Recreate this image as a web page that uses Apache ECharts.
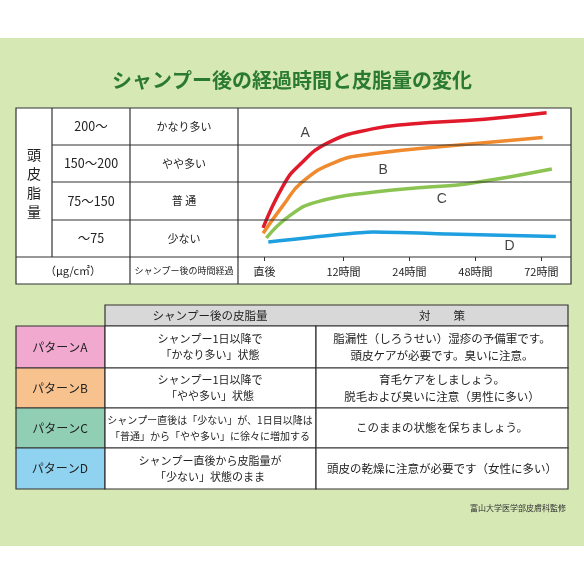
<!DOCTYPE html>
<html><head><meta charset="utf-8">
<script src="https://cdn.jsdelivr.net/npm/echarts@6/dist/echarts.min.js"></script>
<style>html,body{margin:0;padding:0;background:#fff}#c{width:584px;height:584px}</style>
</head><body><div id="c"></div>
<script>
const tickPos = [0, 1.2, 2.2, 3.2, 4.2];
const tickLabels = ['直後', '12時間', '24時間', '48時間', '72時間'];
const rangeLabels = ['200〜', '150〜200', '75〜150', '〜75'];
const levelLabels = ['かなり多い', 'やや多い', '普 通', '少ない'];
const seriesA = [[-0.02,0.78],[0.29,1.93],[0.52,2.45],[0.97,3.07],[1.64,3.44],[2.22,3.57],[3.34,3.7],[4.28,3.87]];
const seriesB = [[-0.02,0.64],[0.29,1.40],[0.57,2.01],[1.08,2.55],[1.64,2.77],[2.78,2.98],[4.22,3.21]];
const seriesC = [[0.03,0.51],[0.40,1.13],[0.80,1.48],[1.64,1.74],[2.49,1.88],[3.06,1.96],[4.36,2.36]];
const seriesD = [[0.06,0.40],[1.64,0.67],[2.78,0.62],[4.42,0.55]];
const curveLabels = [['A',0.62,3.33],['B',1.8,2.33],['C',2.69,1.56],['D',3.72,0.3]];
const patterns = ['パターンA','パターンB','パターンC','パターンD'];
const amounts = ['シャンプー1日以降で\n「かなり多い」状態','シャンプー1日以降で\n「やや多い」状態','シャンプー直後は「少ない」が、1日目以降は\n「普通」から「やや多い」に徐々に増加する','シャンプー直後から皮脂量が\n「少ない」状態のまま'];
const measures = ['脂漏性（しろうせい）湿疹の予備軍です。\n頭皮ケアが必要です。臭いに注意。','育毛ケアをしましょう。\n脱毛および臭いに注意（男性に多い）','このままの状態を保ちましょう。','頭皮の乾燥に注意が必要です（女性に多い）'];
const patternColors = ['#f1a9cf','#f8c28f','#90cfb4','#8fd3f0'];

const F = '"Noto Sans CJK JP", sans-serif';
const g = [];
g.push({type:'rect',shape:{x:0,y:38,width:584,height:508},style:{fill:'#d6e8b4'},z:-10});
g.push({type:'text',style:{text:'シャンプー後の経過時間と皮脂量の変化',x:292,y:80,align:'center',verticalAlign:'middle',font:'bold 20px '+F,fill:'#2a7a30'}});
g.push({type:'rect',shape:{x:16,y:108,width:555,height:176},style:{fill:'#fff',stroke:'#333',lineWidth:1.2},z:-5});
const rows=[108,145,182,220,257,284];
function line(x1,y1,x2,y2){g.push({type:'line',shape:{x1,y1,x2,y2},style:{stroke:'#333',lineWidth:1.2},z:5});}
for(let i=1;i<4;i++) line(52,rows[i],571,rows[i]);
line(16,257,571,257);
line(52,108,52,257);line(130,108,130,284);line(238,108,238,284);
g.push({type:'text',style:{text:'頭\n皮\n脂\n量',x:34,y:183,align:'center',verticalAlign:'middle',font:'14px '+F,lineHeight:19,fill:'#222'}});
for(let i=0;i<4;i++){
  const cy=(rows[i]+rows[i+1])/2;
  g.push({type:'text',style:{text:rangeLabels[i],x:91,y:cy,align:'center',verticalAlign:'middle',font:'12.5px '+F,fill:'#222'}});
  g.push({type:'text',style:{text:levelLabels[i],x:184,y:cy,align:'center',verticalAlign:'middle',font:'11px '+F,fill:'#222'}});
}
g.push({type:'text',style:{text:'（μg/c㎡）',x:73,y:271,align:'center',verticalAlign:'middle',font:'11px '+F,fill:'#222'}});
g.push({type:'text',style:{text:'シャンプー後の時間経過',x:184,y:271,align:'center',verticalAlign:'middle',font:'9px '+F,fill:'#222'}});
const trows=[305,326,368,408,448,489];
g.push({type:'rect',shape:{x:105,y:305,width:463,height:21},style:{fill:'#d8d8d8',stroke:'#333',lineWidth:1.2}});
g.push({type:'text',style:{text:'シャンプー後の皮脂量',x:210,y:315.5,align:'center',verticalAlign:'middle',font:'11.5px '+F,fill:'#222'}});
g.push({type:'text',style:{text:'対　　策',x:442,y:315.5,align:'center',verticalAlign:'middle',font:'11.5px '+F,fill:'#222'}});
for(let i=0;i<4;i++){
  const y=trows[i+1],h=trows[i+2]-y,cy=y+h/2;
  g.push({type:'rect',shape:{x:16,y,width:89,height:h},style:{fill:patternColors[i],stroke:'#333',lineWidth:1.2}});
  g.push({type:'rect',shape:{x:105,y,width:211,height:h},style:{fill:'#fff',stroke:'#333',lineWidth:1.2}});
  g.push({type:'rect',shape:{x:316,y,width:252,height:h},style:{fill:'#fff',stroke:'#333',lineWidth:1.2}});
  g.push({type:'text',style:{text:patterns[i],x:60,y:cy,align:'center',verticalAlign:'middle',font:'12px '+F,fill:'#222'}});
  g.push({type:'text',style:{text:amounts[i],x:210,y:cy,align:'center',verticalAlign:'middle',font:(i==2?'10px ':'11px ')+F,lineHeight:16,fill:'#222'}});
  g.push({type:'text',style:{text:measures[i],x:442,y:cy,align:'center',verticalAlign:'middle',font:'11.5px '+F,lineHeight:17,fill:'#222'}});
}
g.push({type:'text',style:{text:'富山大学医学部皮膚科監修',x:566,y:508,align:'right',verticalAlign:'middle',font:'8px '+F,fill:'#333'}});

function ls(data,color,sm){return {type:'line',data,smooth:sm,showSymbol:false,symbol:'none',lineStyle:{color,width:3.5},z:3};}
const chart=echarts.init(document.getElementById('c'));
chart.setOption({
  animation:false,
  grid:{left:238,right:13,top:108,bottom:327},
  xAxis:{type:'value',min:-0.4,max:4.65,
    axisLine:{show:false},splitLine:{show:false},
    axisTick:{show:true,length:4,inside:false,customValues:tickPos,lineStyle:{color:'#333'}},
    axisLabel:{customValues:tickPos,margin:9,fontFamily:F,fontSize:11,color:'#222',
      formatter:v=>{const i=tickPos.findIndex(t=>Math.abs(t-v)<1e-6);return i>=0?tickLabels[i]:'';}}},
  yAxis:{type:'value',min:0,max:4,interval:1,show:false},
  series:[ls(seriesA,'#e01a2b',0.5),ls(seriesB,'#f08a2e',0.5),ls(seriesC,'#8cc453',0.5),ls(seriesD,'#1d9fe0',0.15),
    {type:'scatter',symbolSize:0,data:curveLabels.map(d=>({value:[d[1],d[2]],name:d[0]})),
     label:{show:true,formatter:p=>p.name,position:'inside',fontSize:14,fontFamily:'Arial, sans-serif',color:'#111'},z:6}],
  graphic:g
});
</script></body></html>
